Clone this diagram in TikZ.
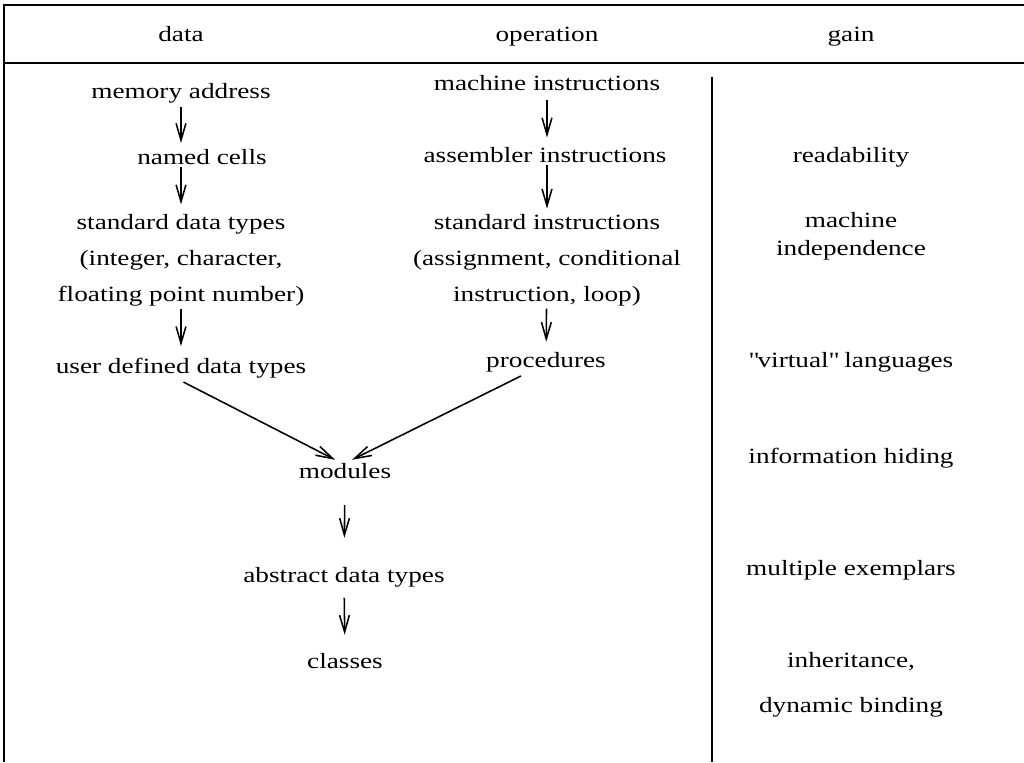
\documentclass[tikz,border=0pt]{standalone}
\usepackage{fontspec}
\setmainfont{Liberation Serif}[FakeStretch=1.25]
\usetikzlibrary{arrows.meta}

\begin{document}
\begin{tikzpicture}[
    x=0.025cm, y=-0.025cm,
    >={Straight Barb[length=12pt,width=7pt]},
    font=\fontsize{15.5}{25.6}\selectfont,
    stage/.style={
		anchor=base,
		inner sep=2pt,
		align=center
	},
	gain/.style={
		stage,
		font=\fontsize{15.5}{19.9}\selectfont
	},
	flow/.style={
		->,
		line width=1.1pt
	},
	frame/.style={
		line width=1.6pt
	}
  ]
  \useasboundingbox (0,0) rectangle (1024,762);

    % We start by drawing the table lines
  \draw [frame] (1024,5) -- (4,5) -- (4,762);
  \draw [frame] (4,63) -- (1024,63);
  \draw [frame] (712,77) -- (712,762);

    % the column heads
  \node [stage] (hdata) at (181,42) {data};
  \node [stage] (hop) at (547,42) {operation};
  \node [stage] (hgain) at (851,42) {gain};

    % data column (multi-line nodes sit on their last line)
  \node [stage] (memaddr) at (181,98) {memory address};
  \node [stage] (named) at (202,164) {named cells};
  \node [stage] (stdtypes) at (181,301)
 {standard data types\\(integer, character,\\floating point number)};
  \node [stage] (usertypes) at (181,373) {user defined data types};

    % operation column
  \node [stage] (machinstr) at (547,91) {machine instructions};
  \node [stage] (asminstr) at (545,162) {assembler instructions};
  \node [stage] (stdinstr) at (547,301)
 {standard instructions\\(assignment, conditional\\instruction, loop)};
  \node [stage] (procs) at (546,367) {procedures};

    % joined part
  \node [stage] (modules) at (345,478) {modules};
  \node [stage] (adt) at (344,582) {abstract data types};
  \node [stage] (classes) at (345,668) {classes};

    % gain column
  \node [gain] (readab) at (851,162) {readability};
  \node [gain] (machind) at (851,255) {machine\\independence};
  \node [gain] (virtual) at (851,367) {\textquotedbl virtual\textquotedbl{} languages};
  \node [gain] (infohid) at (851,463) {information hiding};
  \node [gain] (multiex) at (851,575) {multiple exemplars};
  \node [gain] (inherit) at (851,712) {inheritance,\\[12pt]dynamic binding};

    % now the arrows
  \draw [flow, shorten <=1pt, shorten >=2pt] (memaddr.south) -- (memaddr.south |- named.north);
  \draw [flow, shorten >=4.5pt] (named.south -| stdtypes.north) -- (stdtypes.north);
  \draw [flow, shorten >=6pt] (stdtypes) -- (usertypes);
  \draw [flow, shorten <=4.4pt, shorten >=4.5pt] (machinstr.south) -- (machinstr.south |- asminstr.north);
  \draw [flow, shorten >=1.5pt] (asminstr.south -| stdinstr.north) -- (stdinstr.north);
  \draw [flow, shorten >=5pt] (stdinstr) -- (procs);
  \draw [flow, shorten <=2pt] (usertypes.south) -- ([xshift=-7pt]modules.north);
  \draw [flow, shorten <=2pt] ([xshift=-16pt]procs.south) -- ([xshift=5pt]modules.north);
  \draw [flow, shorten <=17pt, shorten >=18.5pt] (modules) -- (adt);
  \draw [flow, shorten <=5.7pt, shorten >=10.7pt] (adt) -- (classes);

\end{tikzpicture}
\end{document}
